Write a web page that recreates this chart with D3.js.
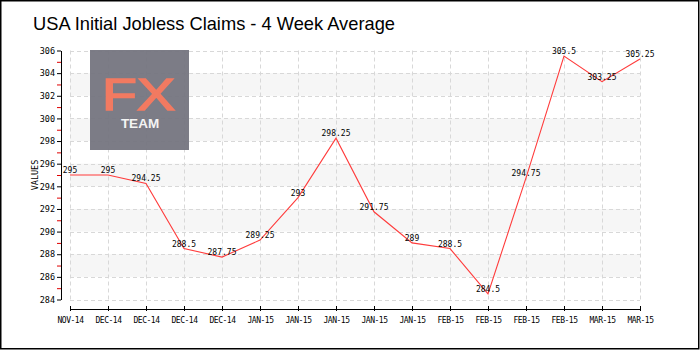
<!DOCTYPE html>
<html>
<head>
<meta charset="utf-8">
<script src="https://cdn.jsdelivr.net/npm/d3@7"></script>
<style>
  html, body { margin: 0; padding: 0; background: #fff; }
  svg { display: block; }
</style>
</head>
<body>
<svg id="chart" width="700" height="350"></svg>
<script>
const title = "USA Initial Jobless Claims - 4 Week Average";
const categories = ["NOV-14","DEC-14","DEC-14","DEC-14","DEC-14","JAN-15","JAN-15","JAN-15","JAN-15","JAN-15","FEB-15","FEB-15","FEB-15","FEB-15","MAR-15","MAR-15"];
const values = [295, 295, 294.25, 288.5, 287.75, 289.25, 293, 298.25, 291.75, 289, 288.5, 284.5, 294.75, 305.5, 303.25, 305.25];
const yMajorTicks = [284, 286, 288, 290, 292, 294, 296, 298, 300, 302, 304, 306];
const yMinorTicks = [285, 287, 289, 291, 293, 295, 297, 299, 301, 303, 305];
const yAxisTitle = "VALUES";

(function () {
const svg = d3.select("#chart");
const pL = 70, pR = 640, pT = 50.5, pB = 299.5;
const x = d3.scaleLinear().domain([0, categories.length - 1]).range([pL, pR]);
const y = d3.scaleLinear().domain([284, 306]).range([pB, pT]);
const mono = "'DejaVu Sans Mono', monospace";

// border
svg.append("rect").attr("x", 0.75).attr("y", 0.75).attr("width", 698).attr("height", 348)
  .attr("fill", "#fff").attr("stroke", "#000").attr("stroke-width", 1.5);

// title
svg.append("text").attr("x", 33).attr("y", 29.5)
  .attr("font-family", "'Liberation Sans Narrow', 'Liberation Sans', sans-serif")
  .attr("font-size", 19).attr("fill", "#000")
  .attr("textLength", 362).attr("lengthAdjust", "spacingAndGlyphs")
  .text(title);

// bands
const g = svg.append("g");
for (let i = 0; i < yMajorTicks.length - 1; i++) {
  if (i % 2 === 1) {
    g.append("rect").attr("x", pL).attr("width", pR - pL)
      .attr("y", y(yMajorTicks[i + 1])).attr("height", y(yMajorTicks[i]) - y(yMajorTicks[i + 1]))
      .attr("fill", "#f6f6f6");
  }
}

// grid
const grid = svg.append("g").attr("stroke", "#d8d8d8").attr("stroke-dasharray", "4,3").attr("stroke-width", 1);
yMajorTicks.forEach(v => {
  grid.append("line").attr("x1", pL).attr("x2", pR).attr("y1", Math.round(y(v)) + 0.5).attr("y2", Math.round(y(v)) + 0.5);
});
categories.forEach((c, i) => {
  grid.append("line").attr("x1", Math.round(x(i)) + 0.5).attr("x2", Math.round(x(i)) + 0.5).attr("y1", pT).attr("y2", pB);
});

// logo (semi-transparent over the grid)
const logo = svg.append("g");
logo.append("rect").attr("x", 90).attr("y", 50).attr("width", 99).attr("height", 100)
  .attr("fill", "#74747e").attr("fill-opacity", 0.94);
logo.append("text").attr("x", 102).attr("y", 109.5)
  .attr("font-family", "'Liberation Sans', Arial, sans-serif").attr("font-size", 44)
  .attr("textLength", 73).attr("lengthAdjust", "spacingAndGlyphs")
  .attr("stroke", "#f27a61").attr("stroke-width", 1.5)
  .attr("fill", "#f27a61").text("FX");
logo.append("text").attr("x", 140).attr("y", 127.5).attr("text-anchor", "middle")
  .attr("font-family", "'Liberation Sans', Arial, sans-serif").attr("font-weight", "bold").attr("font-size", 13.5)
  .attr("fill", "#f4f4f4").text("TEAM");

// y axis
const yAxisG = svg.append("g").attr("transform", "translate(61,0)")
  .call(d3.axisLeft(y).tickValues(yMajorTicks).tickSize(4).tickSizeOuter(0).tickPadding(2).tickFormat(d3.format("d")));
yAxisG.select(".domain").attr("stroke", "#000");
yAxisG.selectAll(".tick line").attr("stroke", "#000");
yAxisG.selectAll(".tick text").attr("font-family", mono).attr("font-size", 8.5).attr("fill", "#000");
const yMinorG = svg.append("g").attr("transform", "translate(61,0)")
  .call(d3.axisLeft(y).tickValues(yMinorTicks).tickSize(4).tickSizeOuter(0).tickFormat(""));
yMinorG.select(".domain").remove();
yMinorG.selectAll(".tick line").attr("stroke", "#e00000");

svg.append("text").attr("transform", "translate(38,175) rotate(-90)").attr("text-anchor", "middle")
  .attr("font-family", mono).attr("font-size", 8.5).attr("fill", "#000").text(yAxisTitle);

// x axis
const xAxisG = svg.append("g").attr("transform", "translate(0,309)")
  .call(d3.axisBottom(x).tickValues(d3.range(categories.length)).tickSize(3).tickSizeOuter(0).tickPadding(5)
    .tickFormat(i => categories[i]));
xAxisG.select(".domain").attr("stroke", "#000");
xAxisG.selectAll(".tick line").attr("stroke", "#000").attr("y1", -3).attr("y2", 2);
xAxisG.selectAll(".tick text").attr("font-family", mono).attr("font-size", 8)
  .attr("letter-spacing", -0.5).attr("fill", "#000");

// line
const line = d3.line().x((d, i) => x(i)).y(d => y(d));
svg.append("path").datum(values).attr("d", line).attr("fill", "none")
  .attr("stroke", "#ff3b3b").attr("stroke-width", 1.1);

// data labels
svg.append("g").selectAll("text").data(values).join("text")
  .attr("x", (d, i) => x(i)).attr("y", d => y(d) - 2)
  .attr("text-anchor", "middle").attr("font-family", mono).attr("font-size", 8).attr("fill", "#000")
  .text(d => d);
})();
</script>
</body>
</html>
